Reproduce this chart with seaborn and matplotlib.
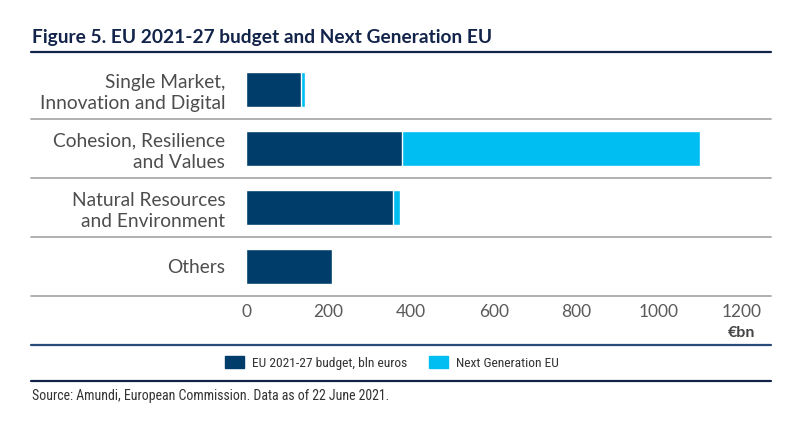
import matplotlib
matplotlib.use("Agg")
import matplotlib.pyplot as plt
import seaborn as sns
import pandas as pd
from matplotlib.lines import Line2D
from matplotlib.patches import Patch
from matplotlib import font_manager

# dados do gráfico
categorias = ["Single Market,\nInnovation and Digital",
              "Cohesion, Resilience\nand Values",
              "Natural Resources\nand Environment",
              "Others"]
orcamento = [132.8, 377.8, 356.4, 207.4]
next_gen = [10.6, 721.9, 17.5, 0.0]
xticks = [0, 200, 400, 600, 800, 1000, 1200]

cor_escura = "#003D6B"
cor_clara = "#00BEF2"
navy = "#13244B"

df = pd.DataFrame({"cat": categorias, "orc": orcamento, "ngeu": next_gen})
df["total"] = df["orc"] + df["ngeu"]

sns.set_style("white")
plt.rcParams["font.family"] = ["Lato", "DejaVu Sans"]

# fonte estreita para legenda e fonte
fp_legenda = font_manager.FontProperties(family=["Roboto Condensed", "DejaVu Sans"], size=9.7)
fp_fonte = font_manager.FontProperties(family=["Roboto Condensed", "DejaVu Sans"], size=10)

fig = plt.figure(figsize=(8, 4.24), dpi=100)
ax = fig.add_axes([246 / 800, 1 - 296 / 424, 525 / 800, (296 - 59.5) / 424])

# barras empilhadas: total primeiro, orçamento por cima
sns.barplot(data=df, y="cat", x="total", color=cor_clara, orient="h",
            width=0.59, saturation=1, ax=ax)
sns.barplot(data=df, y="cat", x="orc", color=cor_escura, orient="h",
            width=0.59, saturation=1, ax=ax)

ax.set_xlim(0, 1271)
ax.set_ylim(3.5, -0.5)
ax.set_xticks(xticks)
ax.set_xticklabels([str(t) for t in xticks])
ax.set_xlabel("")
ax.set_ylabel("")
for s in ax.spines.values():
    s.set_visible(False)
ax.tick_params(axis="both", length=0)
ax.tick_params(axis="x", pad=6, labelsize=12.5, labelcolor="#5A5A5A")
ax.tick_params(axis="y", pad=15, labelsize=13.8, labelcolor="#4D4D4D")
for lbl in ax.get_yticklabels():
    lbl.set_linespacing(1.3)
    lbl.set_ha("right")

# linhas separadoras
for y in [0.5, 1.5, 2.5, 3.5]:
    ax.axhline(y, xmin=-0.4095, xmax=1, color="#AAAAAA", lw=1.3, clip_on=False)

ax.text(1200, -0.158, "€bn", transform=ax.get_xaxis_transform(), ha="center",
        va="center", fontsize=11.5, fontweight="bold", color="#444444")

# título e linhas
fig.text(32 / 800, 1 - 37 / 424, "Figure 5. EU 2021-27 budget and Next Generation EU",
         fontsize=13.8, fontweight="bold", color=navy, va="center", ha="left")
for yy, c in [(52, navy), (345, "#2A4A7A"), (381, navy)]:
    fig.add_artist(Line2D([31 / 800, 771 / 800], [1 - yy / 424, 1 - yy / 424],
                          color=c, lw=1.6, transform=fig.transFigure))

handles = [Patch(color=cor_escura), Patch(color=cor_clara)]
fig.legend(handles, ["EU 2021-27 budget, bln euros", "Next Generation EU"],
           loc="center", bbox_to_anchor=(392 / 800, 1 - 363 / 424), ncol=2,
           frameon=False, prop=fp_legenda,
           handlelength=1.4, handleheight=1.0, columnspacing=1.6,
           handletextpad=0.6, labelcolor="#333333")

fig.text(32 / 800, 1 - 396 / 424,
         "Source: Amundi, European Commission. Data as of 22 June 2021.",
         fontproperties=fp_fonte, color="#333333", va="center", ha="left")

fig.savefig("out.png", dpi=100)
